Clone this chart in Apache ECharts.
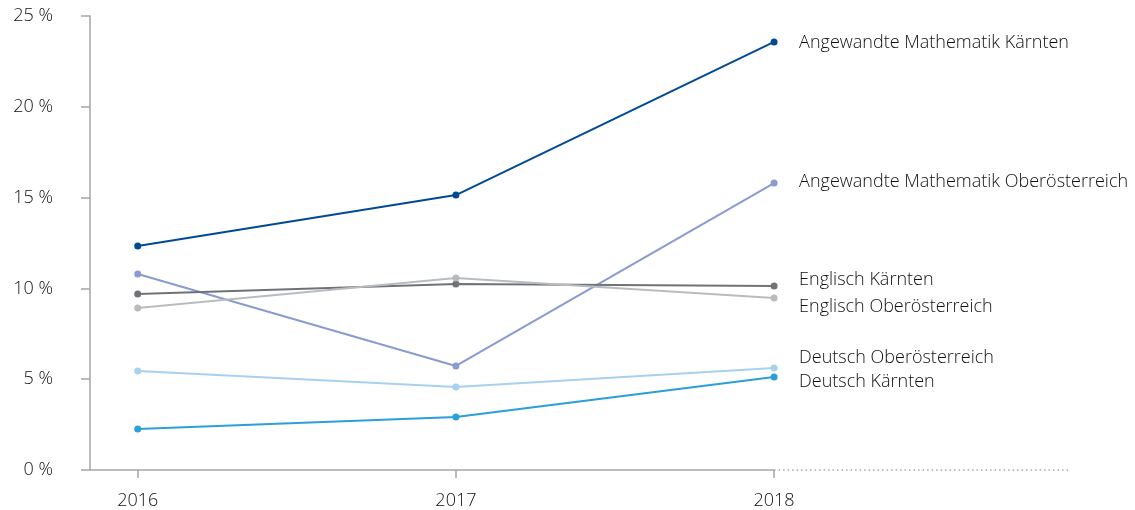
<!DOCTYPE html>
<html>
<head>
<meta charset="utf-8">
<script src="https://cdn.jsdelivr.net/npm/echarts@6/dist/echarts.min.js"></script>
<style>
  html, body { margin: 0; padding: 0; background: #fff; }
  #chart { width: 1135px; height: 510px; }
</style>
</head>
<body>
<div id="chart"></div>
<script>
// Years shown on the x axis
const years = [2016, 2017, 2018];

// Shares in percent per subject and federal state
const angMathKaernten = [12.33, 15.14, 23.57];
const angMathOberoesterreich = [10.79, 5.73, 15.80];
const englischKaernten = [9.69, 10.24, 10.13];
const englischOberoesterreich = [8.92, 10.57, 9.47];
const deutschOberoesterreich = [5.45, 4.57, 5.62];
const deutschKaernten = [2.26, 2.92, 5.12];

// Y axis ticks
const yTicks = [0, 5, 10, 15, 20, 25];

// x range of the axis (extends past the last year)
const xMin = 2015.85;
const xMax = 2018.93;

const FONT = '"Open Sans", "Noto Sans", sans-serif';
const FONT_SIZE = 18;
const FONT_WEIGHT = 300;
const TEXT_COLOR = '#111';
const AXIS_COLOR = '#a3a6a9';

const seriesDefs = [
  { name: 'Angewandte Mathematik Kärnten', values: angMathKaernten, color: '#004a93', offset: [0, 1] },
  { name: 'Angewandte Mathematik Oberösterreich', values: angMathOberoesterreich, color: '#8a9bcf', offset: [0, -1] },
  { name: 'Englisch Kärnten', values: englischKaernten, color: '#6f7377', offset: [0, -6] },
  { name: 'Englisch Oberösterreich', values: englischOberoesterreich, color: '#b9bcbf', offset: [0, 9] },
  { name: 'Deutsch Oberösterreich', values: deutschOberoesterreich, color: '#a8d0ef', offset: [0, -10] },
  { name: 'Deutsch Kärnten', values: deutschKaernten, color: '#2a9fd9', offset: [0, 5] }
];

const series = seriesDefs.map(function (s) {
  return {
    name: s.name,
    type: 'line',
    data: years.map(function (y, i) { return [y, s.values[i]]; }),
    symbol: 'circle',
    symbolSize: 7,
    lineStyle: { color: s.color, width: 2 },
    itemStyle: { color: s.color },
    silent: true,
    animation: false,
    endLabel: {
      show: true,
      formatter: '{a}',
      color: TEXT_COLOR,
      fontFamily: FONT,
      fontSize: FONT_SIZE,
      fontWeight: FONT_WEIGHT,
      distance: 25,
      offset: s.offset
    }
  };
});

// Baseline: solid up to the last year, dotted beyond it
series.push({
  type: 'line',
  data: [],
  silent: true,
  animation: false,
  markLine: {
    silent: true,
    symbol: 'none',
    label: { show: false },
    animation: false,
    data: [
      [
        { coord: [xMin, 0], lineStyle: { color: AXIS_COLOR, width: 1.5, type: 'solid' } },
        { coord: [years[2], 0] }
      ],
      [
        { coord: [years[2], 0], lineStyle: { color: AXIS_COLOR, width: 1.5, type: [1.5, 3] } },
        { coord: [xMax, 0] }
      ]
    ]
  },
  z: 1
});

const chart = echarts.init(document.getElementById('chart'), null, { renderer: 'canvas' });
chart.setOption({
  animation: false,
  backgroundColor: '#fff',
  grid: { left: 90, right: 65, top: 16, bottom: 39, containLabel: false },
  xAxis: {
    type: 'value',
    min: xMin,
    max: xMax,
    axisLine: { show: false },
    splitLine: { show: false },
    axisTick: {
      show: true,
      customValues: years,
      length: 8,
      lineStyle: { color: AXIS_COLOR, width: 1.5 }
    },
    axisLabel: {
      customValues: years,
      formatter: function (v) { return String(v); },
      color: TEXT_COLOR,
      fontFamily: FONT,
      fontSize: FONT_SIZE,
      fontWeight: FONT_WEIGHT,
      margin: 22
    }
  },
  yAxis: {
    type: 'value',
    min: yTicks[0],
    max: yTicks[yTicks.length - 1],
    interval: 5,
    axisLine: { show: true, lineStyle: { color: AXIS_COLOR, width: 1.5 } },
    axisTick: { show: true, length: 9, lineStyle: { color: AXIS_COLOR, width: 1.5 } },
    splitLine: { show: false },
    axisLabel: {
      formatter: '{value} %',
      color: TEXT_COLOR,
      fontFamily: FONT,
      fontSize: FONT_SIZE,
      fontWeight: FONT_WEIGHT,
      margin: 37
    }
  },
  series: series
});
</script>
</body>
</html>
